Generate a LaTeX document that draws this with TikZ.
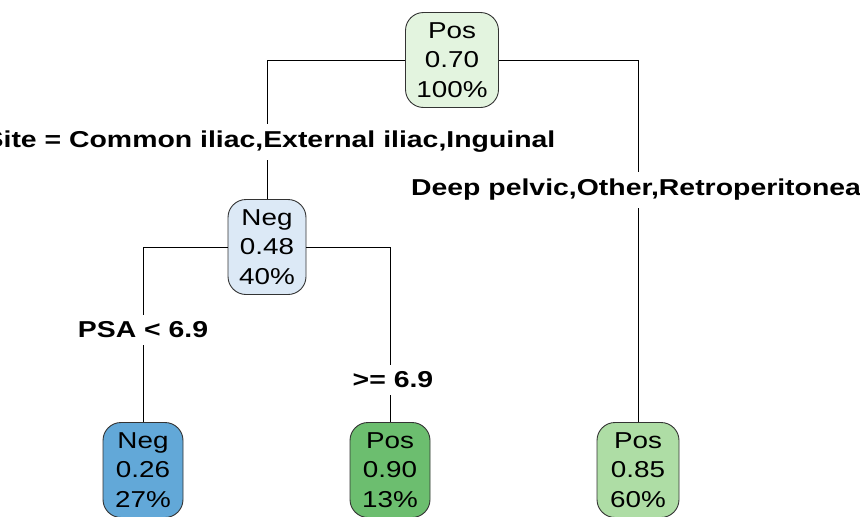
\documentclass[tikz,border=0pt]{standalone}
\usepackage{fontspec}
\setmainfont{Liberation Sans}[FakeStretch=1.21]
\newfontfamily\splitfont{Liberation Sans}[FakeStretch=1.235]
\definecolor{rootfill}{HTML}{E3F4DF}
\definecolor{negmid}{HTML}{DCE9F6}
\definecolor{negleaf}{HTML}{62A8D8}
\definecolor{posdark}{HTML}{6CBE6F}
\definecolor{poslight}{HTML}{AEDDA5}
\tikzset{
  treenode/.style={draw=black!80, line width=0.9pt, rounded corners=18pt,
    align=center, font=\fontsize{23}{29.5}\selectfont,
    minimum height=95pt, inner xsep=9pt, inner ysep=4pt},
  splitlabel/.style={fill=white, inner xsep=2pt, inner ysep=7pt,
    font=\splitfont\fontsize{23}{28}\selectfont\bfseries},
  branch/.style={line width=0.9pt, black}
}
\begin{document}
\begin{tikzpicture}[x=1pt, y=-1pt]
\useasboundingbox (0,0) rectangle (860,517);
\clip (0,0) rectangle (860,517);

% decision nodes
\node[treenode, fill=rootfill, minimum width=93pt] (root) at (452,60) {Pos\\0.70\\100\%};
\node[treenode, fill=negmid, minimum width=78pt] (site) at (267,247) {Neg\\0.48\\40\%};

% leaves
\node[treenode, fill=negleaf, minimum width=80pt] (leafA) at (143,470) {Neg\\0.26\\27\%};
\node[treenode, fill=posdark, minimum width=80pt] (leafB) at (390,470) {Pos\\0.90\\13\%};
\node[treenode, fill=poslight, minimum width=82pt] (leafC) at (638,470) {Pos\\0.85\\60\%};

% branches
\draw[branch] (root.west) -| (site.north);
\draw[branch] (root.east) -| (leafC.north);
\draw[branch] (site.west) -| (leafA.north);
\draw[branch] (site.east) -| (leafB.north);

% split labels
\node[splitlabel] (lblSite) at (270,142) {Site = Common iliac,External iliac,Inguinal};
\node[splitlabel] (lblDeep) at (640,190) {Deep pelvic,Other,Retroperitoneal};
\node[splitlabel] (lblPsaLo) at (143,330) {PSA < 6.9};
\node[splitlabel] (lblPsaHi) at (393,380) {>= 6.9};
\end{tikzpicture}
\end{document}
